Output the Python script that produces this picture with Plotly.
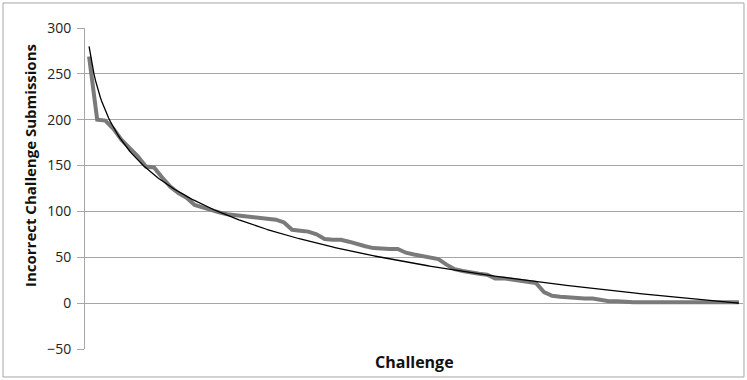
import numpy as np
import plotly.graph_objects as go

# Incorrect submissions per challenge, sorted from most to fewest
submissions = [
    269, 200, 199, 190, 178, 169, 160, 149, 148, 137,
    127, 120, 115, 107, 104, 101, 99, 97, 96, 95,
    95, 94, 93, 91, 88, 80, 79, 78, 75, 70,
    69, 69, 67, 64, 62, 60, 59, 59, 59, 55,
    53, 51, 49, 48, 42, 37, 35, 33, 32, 31,
    27, 27, 26, 25, 24, 22, 12, 8, 7, 6,
    6, 5, 5, 3, 2, 2, 1, 1, 1, 1,
    1, 1, 1, 1, 1, 1, 1, 1, 1, 1, 1,
]
challenges = list(range(1, len(submissions) + 1))
y_ticks = [-50, 0, 50, 100, 150, 200, 250, 300]

# Logarithmic trendline: y = a*ln(x) + b, least squares
x_arr = np.array(challenges, dtype=float)
a, b = np.polyfit(np.log(x_arr), np.array(submissions, dtype=float), 1)
x_fine = np.linspace(1, len(challenges), 400)
trend = a * np.log(x_fine) + b

font_family = "Open Sans, Lato, sans-serif"

fig = go.Figure()
fig.add_trace(go.Scatter(
    x=challenges, y=submissions, mode="lines",
    line=dict(color="#7a7a7a", width=4),
    showlegend=False, hoverinfo="skip",
))
fig.add_trace(go.Scatter(
    x=x_fine, y=trend, mode="lines",
    line=dict(color="#000000", width=1.3),
    showlegend=False, hoverinfo="skip",
))

fig.update_layout(
    width=747, height=380,
    margin=dict(l=85, r=4, t=28, b=31),
    paper_bgcolor="white", plot_bgcolor="white",
    font=dict(family=font_family, color="#222222", size=14),
    xaxis=dict(
        range=[0.5, len(challenges) + 0.5],
        showticklabels=False, showgrid=False, zeroline=False,
        ticks="", showline=False,
    ),
    yaxis=dict(
        range=[-50, 300], tickvals=y_ticks,
        showgrid=True, gridcolor="#a6a6a6", gridwidth=1,
        zeroline=False, showline=True, linecolor="#a6a6a6", linewidth=1,
        ticks="outside", ticklen=7, tickcolor="#a6a6a6",
        tickfont=dict(size=14, color="#222222"),
        ticklabelstandoff=3,
    ),
    annotations=[
        dict(text="<b>Challenge</b>", xref="paper", yref="paper",
             x=0.5, y=-0.0405, xanchor="center", yanchor="middle",
             showarrow=False, font=dict(size=16, color="#111111")),
        dict(text="<b>Incorrect Challenge Submissions</b>", xref="paper", yref="paper",
             x=-0.0836, y=0.573, xanchor="center", yanchor="middle", textangle=-90,
             showarrow=False, font=dict(size=15, color="#111111")),
    ],
    shapes=[dict(
        type="rect", xref="paper", yref="paper",
        x0=-0.1246, x1=1.0015, y0=-0.0872, y1=1.078,
        line=dict(color="#a6a6a6", width=1), fillcolor="rgba(0,0,0,0)",
        layer="below",
    )],
)

fig.write_html("out.html")
